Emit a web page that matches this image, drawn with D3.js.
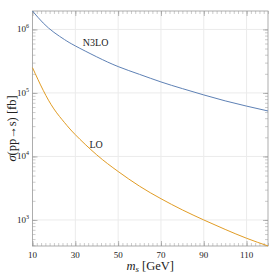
<!DOCTYPE html>
<html>
<head>
<meta charset="utf-8">
<script src="https://cdn.jsdelivr.net/npm/d3@7"></script>
<style>
  body { margin: 0; background: #fff; }
  svg { display: block; }
  text { font-family: "Liberation Serif", "DejaVu Serif", serif; fill: #222; }
</style>
</head>
<body>
<div id="chart"></div>
<script>
// values
const masses = [10, 15, 20, 25, 30, 40, 50, 60, 70, 80, 90, 100, 110, 120];
const n3lo = [1.95e6, 1.26e6, 9.0e5, 6.9e5, 5.5e5, 3.7e5, 2.6e5, 1.96e5, 1.49e5, 1.17e5, 9.3e4, 7.5e4, 6.2e4, 5.2e4];
const lo = [2.5e5, 1.1e5, 5.6e4, 3.4e4, 2.2e4, 1.06e4, 5.8e3, 3.4e3, 2.16e3, 1.44e3, 1.0e3, 7.1e2, 5.15e2, 3.9e2];
const xTicks = [10, 30, 50, 70, 90, 110];
const yTicks = [1e3, 1e4, 1e5, 1e6];
const seriesNames = ['N3LO', 'LO'];
const labelSpots = [[33.5, 5.5e5], [36.6, 1.36e4]];

const width = 270;
const height = 277;
const margin = {
  top: 11, right: 2, bottom: 31, left: 32.5,
};
const colors = ['#5e81b5', '#e19c24'];

const x = d3.scaleLinear()
  .domain([10, 120])
  .range([margin.left, width - margin.right]);

const y = d3.scaleLog()
  .domain([Math.pow(10, 2.59), Math.pow(10, 6.29)])
  .range([height - margin.bottom, margin.top]);

const svg = d3.select('#chart').append('svg')
  .attr('width', width)
  .attr('height', height);

const x0 = x.range()[0];
const x1 = x.range()[1];
const y0 = y.range()[0];
const y1 = y.range()[1];

// grid
svg.append('g')
  .selectAll('line')
  .data(xTicks.filter((d) => d > 10))
  .enter().append('line')
  .attr('x1', (d) => x(d))
  .attr('x2', (d) => x(d))
  .attr('y1', y1)
  .attr('y2', y0)
  .attr('stroke', '#ebebeb');

svg.append('g')
  .selectAll('line')
  .data(yTicks)
  .enter().append('line')
  .attr('x1', x0)
  .attr('x2', x1)
  .attr('y1', (d) => y(d))
  .attr('y2', (d) => y(d))
  .attr('stroke', '#ebebeb');

// minor ticks
const xMinor = d3.range(10, 121, 2);
const yMinor = [];
[100, 1000, 10000, 100000, 1000000].forEach((dec) => {
  for (let k = 1; k < 10; k += 1) {
    const v = dec * k;
    if (v >= y.domain()[0] && v <= y.domain()[1]) yMinor.push(v);
  }
});

const bottomAxis = d3.axisBottom(x).tickValues(xMinor).tickSize(-3).tickFormat('');
const topAxis = d3.axisTop(x).tickValues(xMinor).tickSize(-3).tickFormat('');
const leftAxis = d3.axisLeft(y).tickValues(yMinor).tickSize(-3).tickFormat('');
const rightAxis = d3.axisRight(y).tickValues(yMinor).tickSize(-3).tickFormat('');

const axes = [
  [bottomAxis, `translate(0,${y0})`],
  [topAxis, `translate(0,${y1})`],
  [leftAxis, `translate(${x0},0)`],
  [rightAxis, `translate(${x1},0)`],
];
axes.forEach(([ax, tr]) => {
  const g = svg.append('g').attr('transform', tr).call(ax);
  g.select('.domain').remove();
  g.selectAll('line').attr('stroke', '#aaa').attr('stroke-width', 0.6);
});

// major ticks, a bit longer
const majorX = d3.axisBottom(x).tickValues(xTicks).tickSize(-5).tickFormat('');
const majorXTop = d3.axisTop(x).tickValues(xTicks).tickSize(-5).tickFormat('');
const majorY = d3.axisLeft(y).tickValues(yTicks).tickSize(-5).tickFormat('');
const majorYR = d3.axisRight(y).tickValues(yTicks).tickSize(-5).tickFormat('');
[[majorX, `translate(0,${y0})`], [majorXTop, `translate(0,${y1})`],
  [majorY, `translate(${x0},0)`], [majorYR, `translate(${x1},0)`]].forEach(([ax, tr]) => {
  const g = svg.append('g').attr('transform', tr).call(ax);
  g.select('.domain').remove();
  g.selectAll('line').attr('stroke', '#999').attr('stroke-width', 0.7);
});

// frame
svg.append('rect')
  .attr('x', x0)
  .attr('y', y1)
  .attr('width', x1 - x0)
  .attr('height', y0 - y1)
  .attr('fill', 'none')
  .attr('stroke', '#999')
  .attr('stroke-width', 0.8);

// tick labels
svg.append('g')
  .selectAll('text')
  .data(xTicks)
  .enter().append('text')
  .attr('x', (d) => x(d))
  .attr('y', y0 + 11.5)
  .attr('text-anchor', 'middle')
  .attr('font-size', 9)
  .text((d) => d);

const yLab = svg.append('g')
  .selectAll('text')
  .data(yTicks)
  .enter().append('text')
  .attr('x', x0 - 3.5)
  .attr('y', (d) => y(d) + 3)
  .attr('text-anchor', 'end')
  .attr('font-size', 9);
yLab.append('tspan').text('10');
yLab.append('tspan')
  .attr('dy', -4)
  .attr('font-size', 6)
  .text((d) => Math.round(Math.log10(d)));

// curves
const line = d3.line()
  .x((d) => x(d[0]))
  .y((d) => y(d[1]))
  .curve(d3.curveNatural);

[n3lo, lo].forEach((vals, i) => {
  svg.append('path')
    .datum(masses.map((m, j) => [m, vals[j]]))
    .attr('d', line)
    .attr('fill', 'none')
    .attr('stroke', colors[i])
    .attr('stroke-width', 1);
});

// series labels
svg.append('g')
  .selectAll('text')
  .data(seriesNames)
  .enter().append('text')
  .attr('x', (d, i) => x(labelSpots[i][0]))
  .attr('y', (d, i) => y(labelSpots[i][1]))
  .attr('font-size', 10)
  .text((d) => d);

// axis titles
const xt = svg.append('text')
  .attr('x', (x0 + x1) / 2)
  .attr('y', 270)
  .attr('text-anchor', 'middle')
  .attr('font-size', 12.5);
xt.append('tspan').attr('font-style', 'italic').text('m');
xt.append('tspan').attr('font-style', 'italic').attr('font-size', 9).attr('dy', 2).text('s');
xt.append('tspan').attr('dy', -2).text(' [GeV]');

svg.append('text')
  .attr('transform', `translate(16,${(y0 + y1) / 2}) rotate(-90)`)
  .attr('text-anchor', 'middle')
  .attr('font-size', 12.5)
  .html('<tspan font-style="italic">σ</tspan>(pp→s) [fb]');
</script>
</body>
</html>
